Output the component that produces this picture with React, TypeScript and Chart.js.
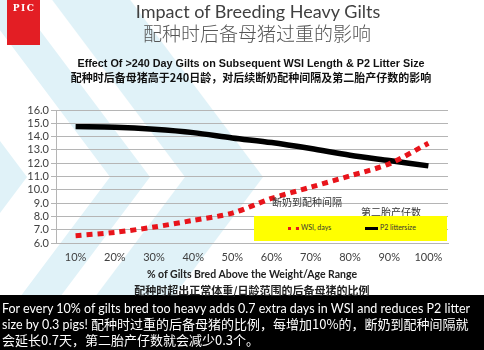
import React, { useEffect, useRef } from "react";
import { Chart, registerables } from "chart.js";

Chart.register(...registerables);

const categories = ["10%", "20%", "30%", "40%", "50%", "60%", "70%", "80%", "90%", "100%"];
const wsiDays = [6.55, 6.8, 7.2, 7.7, 8.25, 9.35, 10.2, 11.05, 11.95, 13.5];
const p2LitterSize = [14.75, 14.7, 14.55, 14.3, 13.9, 13.55, 13.1, 12.6, 12.2, 11.8];
const seriesNames = ["WSI, days", "P2 littersize"];
const seriesNamesZh = ["断奶到配种间隔", "第二胎产仔数"];
const yMin = 6;
const yMax = 16;

const LAT = "Lato, 'Noto Sans CJK SC', sans-serif";
const CJK = "'Noto Sans CJK SC', sans-serif";

function T(props: { x: number; y: number; children: React.ReactNode; style?: React.CSSProperties; align?: "c" | "l" }) {
  const { x, y, children, style, align = "c" } = props;
  return (
    <div
      style={{
        position: "absolute",
        left: x,
        top: y,
        transform: align === "c" ? "translate(-50%,-50%)" : "translate(0,-50%)",
        whiteSpace: "nowrap",
        lineHeight: 1,
        zIndex: 3,
        ...style,
      }}
    >
      {children}
    </div>
  );
}

function chevron(l: number, r: number, k: number, ay: number) {
  const up = ay * k;
  const dn = (350 - ay) * k;
  return `${l - up},0 ${r - up},0 ${r},${ay} ${r - dn},350 ${l - dn},350 ${l},${ay}`;
}

export default function App() {
  const ref = useRef<HTMLCanvasElement | null>(null);

  useEffect(() => {
    document.body.style.margin = "0";
    const ctx = ref.current!;
    const chart = new Chart(ctx, {
      type: "line",
      data: {
        labels: categories,
        datasets: [
          {
            label: seriesNames[0],
            data: wsiDays,
            borderColor: "#e8141b",
            borderWidth: 5,
            borderDash: [6, 5],
            borderCapStyle: "butt",
            pointRadius: 0,
            tension: 0.3,
            fill: false,
          },
          {
            label: seriesNames[1],
            data: p2LitterSize,
            borderColor: "#000000",
            borderWidth: 5.5,
            pointRadius: 0,
            tension: 0.3,
            fill: false,
          },
        ],
      },
      options: {
        responsive: false,
        animation: false,
        layout: { padding: { top: 110, left: 0, right: 36, bottom: 87 } },
        plugins: { legend: { display: false }, tooltip: { enabled: false } },
        scales: {
          x: {
            offset: true,
            grid: { display: false, drawTicks: false },
            border: { display: true, color: "#b5b5b5" },
            ticks: { font: { family: "Lato", size: 11 }, color: "#404040", padding: 8, autoSkip: false, maxRotation: 0 },
            afterFit: (s: any) => {
              s.height = 20;
            },
          },
          y: {
            min: yMin,
            max: yMax,
            ticks: {
              stepSize: 1,
              autoSkip: false,
              font: { family: "Lato", size: 11 },
              color: "#404040",
              padding: 2,
              callback: (v: any) => Number(v).toFixed(1),
            },
            grid: { color: "#b5b5b5", tickLength: 5 },
            border: { color: "#b5b5b5" },
            afterFit: (s: any) => {
              s.width = 56;
            },
          },
        },
      },
    });
    return () => chart.destroy();
  }, []);

  return (
    <div
      style={{
        position: "fixed",
        left: 0,
        top: 0,
        width: 484,
        height: 350,
        background: "#ffffff",
        overflow: "hidden",
      }}
    >
      <svg width={484} height={350} style={{ position: "absolute", left: 0, top: 0, zIndex: 0 }}>
        <polygon points={chevron(-30, 27, 0.75, 177)} fill="#e0f2f8" />
        <polygon points={chevron(110, 150, 0.75, 177)} fill="#e0f2f8" />
        <polygon points={chevron(185, 263, 0.75, 177)} fill="#e0f2f8" />
      </svg>
      <div style={{ position: "absolute", left: 0, top: 295, width: 484, height: 55, background: "#000", zIndex: 1 }} />
      <div style={{ position: "absolute", left: 7, top: 0, width: 33, height: 45, background: "#e31e24", zIndex: 1 }} />
      <canvas ref={ref} width={484} height={350} style={{ position: "absolute", left: 0, top: 0, zIndex: 2 }} />

      <T x={24} y={8} style={{ color: "#fff", fontFamily: "'DejaVu Serif', serif", fontSize: 9, fontWeight: "bold", letterSpacing: 1.5 }}>
        PIC
      </T>
      <T x={258} y={11} style={{ color: "#404040", fontFamily: LAT, fontSize: 18 }}>
        Impact of Breeding Heavy Gilts
      </T>
      <T x={257} y={32} style={{ color: "#555", fontFamily: CJK, fontSize: 19, fontWeight: 300 }}>
        配种时后备母猪过重的影响
      </T>
      <T x={251} y={63} style={{ color: "#111", fontFamily: "'Liberation Sans', Arial, sans-serif", fontSize: 10.8, fontWeight: "bold" }}>
        Effect Of &gt;240 Day Gilts on Subsequent WSI Length &amp; P2 Litter Size
      </T>
      <T x={251} y={77} style={{ color: "#111", fontFamily: CJK, fontSize: 11, fontWeight: "bold" }}>
        配种时后备母猪高于240日龄，对后续断奶配种间隔及第二胎产仔数的影响
      </T>

      <T x={272} y={202} align="l" style={{ color: "#333", fontFamily: CJK, fontSize: 10 }}>
        {seriesNamesZh[0]}
      </T>
      <T x={361} y={212} align="l" style={{ color: "#333", fontFamily: CJK, fontSize: 10 }}>
        {seriesNamesZh[1]}
      </T>

      <div style={{ position: "absolute", left: 254, top: 216, width: 193, height: 25, background: "#ffff00", zIndex: 3 }}>
        <div style={{ position: "absolute", left: 34, top: 11, width: 11, height: 0, borderTop: "3px dotted #e8141b" }} />
        <div style={{ position: "absolute", left: 47, top: 8, fontFamily: LAT, fontSize: 7, color: "#333", whiteSpace: "nowrap", lineHeight: 1 }}>
          {seriesNames[0]}
        </div>
        <div style={{ position: "absolute", left: 111, top: 11, width: 13, height: 3, background: "#000" }} />
        <div style={{ position: "absolute", left: 126, top: 8, fontFamily: LAT, fontSize: 7, color: "#333", whiteSpace: "nowrap", lineHeight: 1 }}>
          {seriesNames[1]}
        </div>
      </div>

      <T x={252} y={274} style={{ color: "#222", fontFamily: LAT, fontSize: 10.5, fontWeight: "bold" }}>
        % of Gilts Bred Above the Weight/Age Range
      </T>
      <T x={252} y={290} style={{ color: "#222", fontFamily: CJK, fontSize: 11, fontWeight: "bold" }}>
        配种时超出正常体重/日龄范围的后备母猪的比例
      </T>

      <T x={2} y={309} align="l" style={{ color: "#fff", fontFamily: LAT, fontSize: 12.5 }}>
        For every 10% of gilts bred too heavy adds 0.7 extra days in WSI and reduces P2 litter
      </T>
      <T x={2} y={324} align="l" style={{ color: "#fff", fontFamily: LAT, fontSize: 12.5 }}>
        size by 0.3 pigs! <span style={{ fontFamily: CJK, fontSize: 13 }}>配种时过重的后备母猪的比例，每增加10%的，断奶到配种间隔就</span>
      </T>
      <T x={2} y={339} align="l" style={{ color: "#fff", fontFamily: CJK, fontSize: 13 }}>
        会延长0.7天，第二胎产仔数就会减少0.3个。
      </T>
    </div>
  );
}
